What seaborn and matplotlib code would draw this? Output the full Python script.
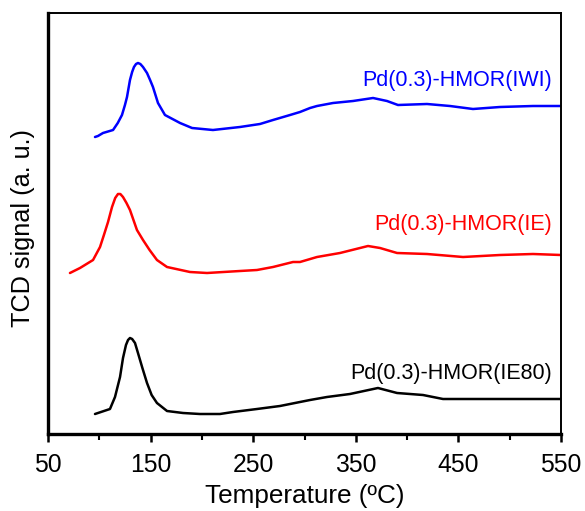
import pandas as pd
import matplotlib.pyplot as plt
import seaborn as sns
from matplotlib.ticker import MultipleLocator

# TPR traces (temperature in C, signal in arbitrary units)
iwi_temp = [95.8, 98.7, 103.6, 113.4, 118.0, 122.1, 125.0, 127.0, 129.9, 132.0, 133.8,
            135.8, 137.7, 140.0, 142.6, 146.5, 149.5, 152.3, 157.2, 164.0, 178.7,
            190.4, 210.8, 237.1, 256.6, 269.3, 285.9, 295.6, 305.4, 312.2, 327.8,
            347.3, 366.8, 380.4, 391.1, 419.4, 441.8, 464.2, 490.5, 522.7, 550.0]
iwi_signal = [297, 298, 301, 304, 311, 319, 329, 337, 354, 362, 367,
              370, 371, 370, 367, 361, 354, 347, 331, 319, 311,
              306, 304, 307, 310, 314, 319, 322, 326, 328, 331,
              333, 336, 333, 329, 330, 328, 325, 327, 328, 328]

ie_temp = [71.4, 81.2, 93.9, 100.7, 104.5, 108.5, 112.4, 115.5, 118.2, 120.5, 123.1,
           126.5, 129.9, 136.7, 142.6, 149.0, 156.2, 166.0, 188.4, 205.0, 237.1,
           253.7, 269.3, 288.8, 295.6, 312.2, 334.6, 361.9, 373.6, 390.2, 419.4,
           454.5, 490.5, 522.7, 550.0]
ie_signal = [161, 166, 174, 187, 199, 212, 227, 236, 240, 240, 237,
             231, 224, 204, 194, 184, 174, 167, 162, 161, 163,
             164, 167, 172, 172, 177, 181, 188, 186, 181, 180,
             177, 179, 180, 179]

ie80_temp = [95.8, 110.4, 115.3, 120.2, 123.1, 126.0, 128.0, 129.9, 132.0, 134.8, 137.7,
             142.0, 146.5, 151.0, 156.2, 166.0, 181.6, 198.1, 217.6, 230.3, 253.7,
             276.1, 295.6, 305.4, 321.9, 344.3, 371.6, 390.2, 415.5, 435.0, 474.0,
             507.1, 550.0]
ie80_signal = [20, 25, 37, 57, 76, 89, 94, 96, 95, 91, 81,
               66, 51, 39, 31, 23, 21, 20, 20, 22, 25,
               28, 32, 34, 37, 40, 46, 41, 39, 35, 35,
               35, 35]

samples = ["Pd(0.3)-HMOR(IWI)", "Pd(0.3)-HMOR(IE)", "Pd(0.3)-HMOR(IE80)"]
colors = ["#0000ff", "#ff0000", "#000000"]
x_ticks = [50, 150, 250, 350, 450, 550]

df = pd.concat([
    pd.DataFrame({"temp": iwi_temp, "signal": iwi_signal, "sample": samples[0]}),
    pd.DataFrame({"temp": ie_temp, "signal": ie_signal, "sample": samples[1]}),
    pd.DataFrame({"temp": ie80_temp, "signal": ie80_signal, "sample": samples[2]}),
])

sns.set_style("white")
plt.rcParams["font.family"] = ["Liberation Sans", "DejaVu Sans"]
plt.rcParams["text.color"] = "black"
plt.rcParams["axes.labelcolor"] = "black"
plt.rcParams["xtick.color"] = "black"

fig = plt.figure(figsize=(5.85, 5.11), dpi=100)
ax = fig.add_axes([48 / 585, 1 - 434 / 511, 513 / 585, 421 / 511])

sns.lineplot(data=df, x="temp", y="signal", hue="sample", palette=dict(zip(samples, colors)),
             estimator=None, sort=False, legend=False, lw=1.8, ax=ax)

# curve labels, right aligned near the end of each trace
label_y = [354, 210, 60]
for name, col, yy in zip(samples, colors, label_y):
    ax.text(541, yy, name, color=col, fontsize=15.5, ha="right", va="center")

ax.set_xlim(50, 550)
ax.set_ylim(0, 421)
ax.set_xticks(x_ticks)
ax.xaxis.set_minor_locator(MultipleLocator(50))
ax.set_yticks([])
ax.tick_params(axis="x", which="major", direction="out", length=6, width=1.8,
               labelsize=17.8, pad=8, bottom=True, colors="black")
ax.tick_params(axis="x", which="minor", direction="out", length=4, width=1.5, bottom=True)

for side in ["left", "bottom"]:
    ax.spines[side].set_linewidth(2.4)
for side in ["top", "right"]:
    ax.spines[side].set_linewidth(1.4)
for sp in ax.spines.values():
    sp.set_color("black")

ax.set_xlabel("Temperature (ºC)", fontsize=18.8, labelpad=5)
ax.set_ylabel("TCD signal (a. u.)", fontsize=18.2)
ax.yaxis.set_label_coords(-0.026, 0.49)

fig.savefig("out.png", dpi=100)
plt.close(fig)
